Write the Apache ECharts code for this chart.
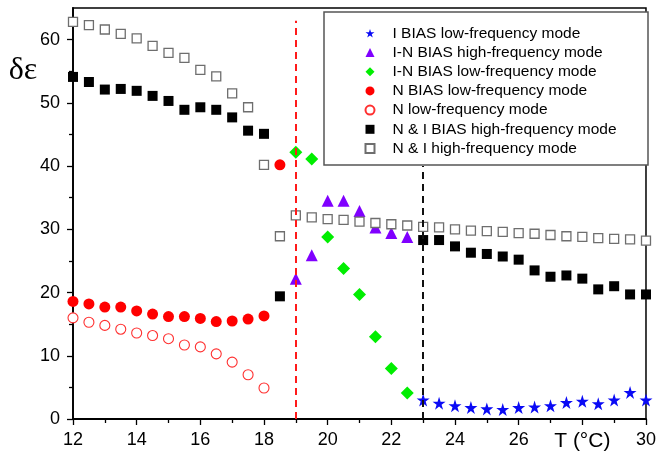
<!DOCTYPE html>
<html>
<head>
<meta charset="utf-8">
<script src="https://cdn.jsdelivr.net/npm/echarts@6/dist/echarts.min.js"></script>
<style>
  html, body { margin: 0; padding: 0; background: #fff; }
  #chart { width: 659px; height: 457px; }
</style>
</head>
<body>
<div id="chart"></div>
<script>
// Temperatures (°C) for each data set
const tNIHigh = [12, 12.5, 13, 13.5, 14, 14.5, 15, 15.5, 16, 16.5, 17, 17.5, 18, 18.5, 19, 19.5, 20, 20.5, 21, 21.5, 22, 22.5, 23, 23.5, 24, 24.5, 25, 25.5, 26, 26.5, 27, 27.5, 28, 28.5, 29, 29.5, 30];
const tNIBiasHigh = [12, 12.5, 13, 13.5, 14, 14.5, 15, 15.5, 16, 16.5, 17, 17.5, 18, 18.5, 23, 23.5, 24, 24.5, 25, 25.5, 26, 26.5, 27, 27.5, 28, 28.5, 29, 29.5, 30];
const tNBiasLow = [12, 12.5, 13, 13.5, 14, 14.5, 15, 15.5, 16, 16.5, 17, 17.5, 18, 18.5];
const tNLow = [12, 12.5, 13, 13.5, 14, 14.5, 15, 15.5, 16, 16.5, 17, 17.5, 18];
const tINBias = [19, 19.5, 20, 20.5, 21, 21.5, 22, 22.5];
const tIBiasLow = [23, 23.5, 24, 24.5, 25, 25.5, 26, 26.5, 27, 27.5, 28, 28.5, 29, 29.5, 30];

// δε values
const niHigh = [62.8, 62.3, 61.6, 60.9, 60.2, 59.0, 57.9, 57.1, 55.2, 54.2, 51.5, 49.3, 40.2, 28.9, 32.2, 31.9, 31.6, 31.5, 31.2, 31.0, 30.8, 30.6, 30.4, 30.3, 30.0, 29.8, 29.7, 29.6, 29.4, 29.3, 29.1, 28.9, 28.8, 28.6, 28.5, 28.4, 28.2];
const niBiasHigh = [54.1, 53.3, 52.1, 52.2, 51.9, 51.1, 50.3, 48.9, 49.3, 48.9, 47.7, 45.6, 45.1, 19.4, 28.3, 28.3, 27.3, 26.3, 26.1, 25.7, 25.2, 23.5, 22.5, 22.7, 22.2, 20.5, 21.0, 19.7, 19.7];
const nBiasLow = [18.6, 18.2, 17.7, 17.7, 17.1, 16.6, 16.2, 16.2, 15.9, 15.4, 15.5, 15.8, 16.3, 40.2];
const nLow = [16.0, 15.3, 14.8, 14.2, 13.6, 13.2, 12.7, 11.7, 11.4, 10.3, 9.0, 7.0, 4.9];
const inBiasLow = [42.2, 41.1, 28.8, 23.8, 19.7, 13.0, 8.0, 4.1];
const inBiasHigh = [22.2, 25.9, 34.5, 34.5, 32.9, 30.3, 29.4, 28.8];
const iBiasLow = [3.0, 2.5, 2.1, 1.8, 1.6, 1.5, 1.8, 1.9, 2.1, 2.6, 2.8, 2.4, 3.0, 4.2, 3.0];

// Phase transition temperatures marked by dashed lines
const tNI = 19;
const tIN = 23;

// Axis ticks
const yLabelValues = [0, 10, 20, 30, 40, 50, 60];
const yMinorValues = [5, 15, 25, 35, 45, 55];

const names = [
  'I BIAS low-frequency mode',
  'I-N BIAS high-frequency mode',
  'I-N BIAS low-frequency mode',
  'N BIAS low-frequency mode',
  'N low-frequency mode',
  'N & I BIAS high-frequency mode',
  'N & I high-frequency mode'
];

const starPath = 'path://M50 0 L61.2 34.5 L97.6 34.5 L68.2 55.9 L79.4 90.5 L50 69.1 L20.6 90.5 L31.8 55.9 L2.4 34.5 L38.8 34.5 Z';

function pairs(xs, ys) {
  return xs.map((x, i) => [x, ys[i]]);
}

const FONT = '"Liberation Sans", Arial, sans-serif';

const chart = echarts.init(document.getElementById('chart'), null, { renderer: 'canvas' });

function scatter(name, xs, ys, symbol, size, itemStyle) {
  return {
    name: name,
    type: 'scatter',
    data: pairs(xs, ys),
    symbol: symbol,
    symbolSize: size,
    itemStyle: Object.assign({ opacity: 1 }, itemStyle),
    emphasis: { disabled: true },
    silent: true,
    z: 2
  };
}

const option = {
  animation: false,
  backgroundColor: '#fff',
  grid: {
    left: 73, right: 10, top: 8, bottom: 38,
    show: true, borderColor: '#000', borderWidth: 1.5, backgroundColor: 'transparent'
  },
  xAxis: {
    type: 'value', min: 12, max: 30, interval: 2,
    axisLine: { show: true, lineStyle: { color: '#000', width: 1.8 } },
    axisTick: { show: true, length: 6, lineStyle: { color: '#000', width: 1.3 } },
    minorTick: { show: true, splitNumber: 2, length: 4, lineStyle: { color: '#000', width: 1.3 } },
    splitLine: { show: false },
    axisLabel: {
      margin: 12, color: '#000', fontSize: 18, fontFamily: FONT,
      formatter: v => (v === 28 ? '{t|T (°C)}' : String(v)),
      rich: { t: { fontSize: 21, fontFamily: FONT, color: '#000' } }
    }
  },
  yAxis: [
    {
      type: 'value', min: 0, max: 65,
      axisLine: { show: true, lineStyle: { color: '#000', width: 1.8 } },
      axisTick: { show: true, length: 6, customValues: yLabelValues, lineStyle: { color: '#000', width: 1.3 } },
      splitLine: { show: false },
      axisLabel: { margin: 13, color: '#000', fontSize: 18, fontFamily: FONT, customValues: yLabelValues }
    },
    {
      type: 'value', min: 0, max: 65, position: 'left',
      axisLine: { show: false },
      axisTick: { show: true, length: 4, customValues: yMinorValues, lineStyle: { color: '#000', width: 1.3 } },
      splitLine: { show: false },
      axisLabel: { show: false }
    }
  ],
  legend: {
    orient: 'vertical',
    left: 364.5, top: 25.3, padding: 0,
    itemWidth: 9, itemHeight: 9, itemGap: 3.2,
    textStyle: { fontSize: 15.5, lineHeight: 16, fontFamily: FONT, color: '#000', padding: [0, 0, 0, 13] },
    selectedMode: false,
    data: names,
    z: 6
  },
  graphic: [
    {
      type: 'rect', z: 3,
      shape: { x: 324, y: 12, width: 324, height: 153 },
      style: { fill: '#fff', stroke: '#555', lineWidth: 1.5 }
    },
    {
      type: 'text', z: 5,
      style: {
        x: 23, y: 71, text: 'δε', fill: '#000',
        font: '32px "Liberation Serif", "Times New Roman", serif',
        textAlign: 'center', textVerticalAlign: 'middle'
      }
    }
  ],
  series: [
    scatter(names[0], tIBiasLow, iBiasLow, starPath, 13, { color: '#0a0af5' }),
    scatter(names[1], tINBias, inBiasHigh, 'triangle', 12, { color: '#8000ff' }),
    scatter(names[2], tINBias, inBiasLow, 'diamond', 13, { color: '#00ee00' }),
    scatter(names[3], tNBiasLow, nBiasLow, 'circle', 11, { color: '#ff0000' }),
    scatter(names[4], tNLow, nLow, 'circle', 10, { color: '#fff', borderColor: '#ff3030', borderWidth: 1.1 }),
    scatter(names[5], tNIBiasHigh, niBiasHigh, 'rect', 10, { color: '#000' }),
    scatter(names[6], tNIHigh, niHigh, 'rect', 9, { color: '#fff', borderColor: '#6e6e6e', borderWidth: 1.3 }),
    {
      type: 'scatter', data: [], silent: true, z: 4,
      markLine: {
        silent: true, symbol: 'none', animation: false,
        label: { show: false },
        emphasis: { disabled: true },
        data: [
          [{ coord: [tNI, 0], lineStyle: { color: '#ff1a1a', type: [7, 5], width: 2 } }, { coord: [tNI, 63] }],
          [{ coord: [tIN, 0], lineStyle: { color: '#111', type: [7, 5], width: 2 } }, { coord: [tIN, 40] }]
        ]
      }
    }
  ]
};

chart.setOption(option);
</script>
</body>
</html>
